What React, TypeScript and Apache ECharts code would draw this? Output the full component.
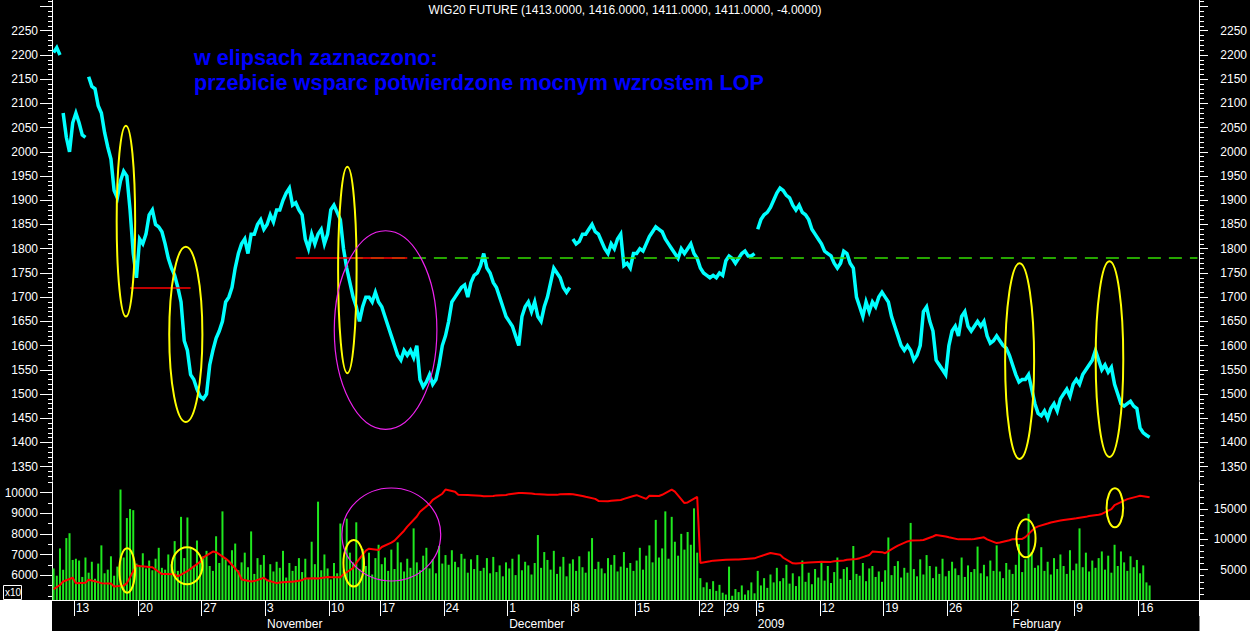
import React, { useEffect, useRef } from 'react';
import * as echarts from 'echarts';

const FONT = '"Liberation Sans", Arial, Helvetica, sans-serif';

const titleText = 'WIG20 FUTURE (1413.0000, 1416.0000, 1411.0000, 1411.0000, -4.0000)';
const noteLines = ['w elipsach zaznaczono:', 'przebicie wsparc potwierdzone mocnym wzrostem LOP'];

// trading sessions shown on the axis
const tradingDays = [
  '2008-10-09', '2008-10-10', '2008-10-13', '2008-10-14', '2008-10-15', '2008-10-16', '2008-10-17',
  '2008-10-20', '2008-10-21', '2008-10-22', '2008-10-23', '2008-10-24', '2008-10-27', '2008-10-28',
  '2008-10-29', '2008-10-30', '2008-10-31',
  '2008-11-03', '2008-11-04', '2008-11-05', '2008-11-06', '2008-11-07', '2008-11-10', '2008-11-12',
  '2008-11-13', '2008-11-14', '2008-11-17', '2008-11-18', '2008-11-19', '2008-11-20', '2008-11-21',
  '2008-11-24', '2008-11-25', '2008-11-26', '2008-11-27', '2008-11-28',
  '2008-12-01', '2008-12-02', '2008-12-03', '2008-12-04', '2008-12-05', '2008-12-08', '2008-12-09',
  '2008-12-10', '2008-12-11', '2008-12-12', '2008-12-15', '2008-12-16', '2008-12-17', '2008-12-18',
  '2008-12-19', '2008-12-22', '2008-12-23', '2008-12-29', '2008-12-30', '2008-12-31',
  '2009-01-05', '2009-01-06', '2009-01-07', '2009-01-08', '2009-01-09', '2009-01-12', '2009-01-13',
  '2009-01-14', '2009-01-15', '2009-01-16', '2009-01-19', '2009-01-20', '2009-01-21', '2009-01-22',
  '2009-01-23', '2009-01-26', '2009-01-27', '2009-01-28', '2009-01-29', '2009-01-30',
  '2009-02-02', '2009-02-03', '2009-02-04', '2009-02-05', '2009-02-06', '2009-02-09', '2009-02-10',
  '2009-02-11', '2009-02-12', '2009-02-13', '2009-02-16',
];
// bars per session (default 4)
const sessionBars: Record<string, number> = { '2008-10-09': 3, '2008-12-31': 2 };
const BARS_PER_DAY = 4;
const EMPTY_BARS_AFTER = 15;

// WIG20 future, one value per bar
const price = [
  2205, 2215, 2200,
  2080, 2030, 2000, 2060,
  2080, 2060, 2035, 2030,
  2155, 2135, 2130, 2095,
  2080, 2040, 2010, 1985,
  1920, 1905, 1940, 1960,
  1950, 1880, 1790, 1740,
  1820, 1810, 1830, 1870,
  1880, 1850, 1845, 1835,
  1810, 1780, 1760, 1745,
  1720, 1690, 1610, 1590,
  1540, 1530, 1510, 1495,
  1490, 1500, 1560, 1590,
  1615, 1630, 1650, 1690,
  1700, 1720, 1760, 1790,
  1810, 1820, 1790, 1830,
  1830, 1850, 1860, 1840,
  1850, 1870, 1855, 1880,
  1880, 1900, 1915, 1925,
  1890, 1895, 1880, 1870,
  1820, 1800, 1830, 1810,
  1830, 1840, 1810, 1830,
  1880, 1890, 1875, 1860,
  1800, 1760, 1730, 1700,
  1680, 1650, 1680, 1700,
  1700, 1690, 1710, 1690,
  1680, 1660, 1640, 1620,
  1600, 1580, 1570, 1590,
  1580, 1590, 1575, 1600,
  1530, 1515, 1525, 1540,
  1520, 1530, 1560, 1600,
  1620, 1650, 1690, 1700,
  1710, 1720, 1725, 1700,
  1730, 1745, 1750, 1765,
  1790, 1760, 1750, 1730,
  1720, 1700, 1680, 1660,
  1650, 1640, 1620, 1600,
  1660, 1680, 1690, 1670,
  1690, 1660, 1650, 1680,
  1700, 1730, 1760, 1750,
  1740, 1720, 1710, 1720,
  1820, 1810, 1815, 1830,
  1830, 1840, 1850, 1835,
  1830, 1815, 1800, 1790,
  1810, 1800, 1820, 1830,
  1765, 1770, 1760, 1790,
  1790, 1800, 1795, 1810,
  1825, 1835, 1845, 1840,
  1835, 1820, 1810, 1800,
  1790, 1780, 1800, 1790,
  1800, 1810, 1790, 1780,
  1760, 1750, 1745, 1740,
  1745, 1740, 1750, 1745,
  1775, 1785, 1780, 1770,
  1780, 1790, 1795, 1785,
  1785, 1790,
  1840, 1860, 1870, 1875,
  1885, 1900, 1915, 1925,
  1920, 1910, 1905, 1890,
  1880, 1890, 1875, 1870,
  1860, 1840, 1830, 1820,
  1810, 1795, 1790, 1785,
  1770, 1760, 1770, 1795,
  1790, 1770, 1760, 1700,
  1680, 1660, 1690, 1670,
  1690, 1680, 1700, 1710,
  1700, 1690, 1660, 1640,
  1620, 1600, 1590, 1600,
  1590, 1570, 1580, 1600,
  1670, 1680, 1650, 1630,
  1570, 1560, 1550, 1540,
  1600, 1630, 1640, 1620,
  1660, 1670, 1640, 1630,
  1640, 1650, 1640, 1650,
  1620, 1605, 1610, 1620,
  1610, 1600, 1595, 1580,
  1560, 1540, 1525, 1530,
  1530, 1540, 1510, 1480,
  1460, 1455, 1465, 1450,
  1470, 1480, 1465, 1490,
  1500, 1510, 1495, 1520,
  1530, 1520, 1540, 1550,
  1560, 1570, 1590, 1570,
  1550, 1560, 1545, 1555,
  1520, 1500, 1480, 1475,
  1480, 1485, 1475, 1470,
  1430, 1420, 1415, 1411,
];
// bars where the price line restarts after an opening gap
const priceGapStarts = [3, 11, 163, 221];

// volume, one value per bar
const volume = [
  5200, 4000, 8500,
  5000, 10200, 11000, 6600,
  6800, 6500, 3800, 7000,
  4500, 6300, 3500, 6000,
  9000, 4400, 5000, 7200,
  4000, 5500, 18200, 7000,
  13500, 15000, 14800, 6000,
  5600, 7700, 5200, 6500,
  4900, 6800, 8600, 5300,
  5000, 7500, 5900, 9700,
  4800, 13700, 6900, 13600,
  8600, 5500, 9800, 6300,
  7200, 8100, 5600, 4800,
  10500, 6100, 14600, 6700,
  5700, 8200, 9300, 4900,
  6200, 7800, 5400, 11300,
  4300, 6900, 5800, 7400,
  3200, 5900, 4700, 6300,
  5300, 8100, 3700, 6100,
  4800, 5600, 6900, 4600,
  6800, 3600, 9600, 5900,
  16200, 4900, 7500, 5200,
  3400, 6100, 4400, 12600,
  5000, 13400, 7800, 6200,
  12800, 5100, 8400, 5600,
  7800, 4200, 6900, 9100,
  5900, 7000, 4800, 8300,
  5100, 9500, 6200, 4700,
  6800, 5300, 11800, 6200,
  4900, 7300, 8600, 5200,
  6700, 4400, 8900, 6000,
  7400, 5800, 8200, 6300,
  5400, 7600, 6800, 4500,
  6700, 5100, 7400, 4800,
  5300, 6900, 4400, 7100,
  4600, 5700, 3900, 6200,
  5200, 6800, 4100, 7500,
  4900, 6300, 5700, 4200,
  6100, 10700, 5300, 7900,
  6600, 5000, 8100, 4300,
  5500, 7100, 3900, 6000,
  6700, 4800, 7200, 5400,
  4500, 8000, 10200, 5100,
  6300, 5200, 4400, 6900,
  5800, 7400, 4700, 5500,
  7900, 5300, 6100, 4800,
  6500, 8600, 5000, 7300,
  9000, 6200, 13200, 7000,
  8500, 14600, 6800, 13700,
  9600, 7300, 10900, 8300,
  11200, 9100, 15100, 7800,
  3600, 2100, 2900, 1800,
  3100, 1500, 2500, 1200,
  900, 5500, 700, 1800,
  1300, 2400, 900, 1600,
  2900, 1100,
  4800, 2400, 3600, 2000,
  4200, 2900, 5300, 3100,
  3600, 5800, 2700, 4400,
  2300, 3900, 6500, 3000,
  4500, 2600, 5100, 3700,
  6200, 3200, 5600, 2800,
  4600, 7000, 3500, 5100,
  5400, 3300, 8900, 4300,
  4000, 6100, 3100, 5200,
  5600, 3800, 4700, 3000,
  4900, 10300, 4100, 5600,
  6400, 3700, 5300, 4500,
  12700, 5100, 3900, 6700,
  4200, 7400, 5600, 3600,
  5500, 4300, 6800, 3900,
  4800, 6300, 5200, 4100,
  7000, 3800, 5700, 4600,
  5100, 8800, 4400, 5800,
  3900, 6500, 4800, 9000,
  4700, 3600, 6100, 5000,
  4300, 5800, 9200, 4600,
  6700, 14200, 7900, 5300,
  5700, 8700, 4800, 6300,
  4200, 6900, 5100, 7500,
  5600, 4300, 8200, 4900,
  6000, 11800, 5400, 7800,
  4700, 6500, 5300, 6900,
  8000, 5000, 7300, 4500,
  9100, 5600, 8000, 6200,
  4800, 7200, 5400, 6600,
  4400, 5700, 2900, 2400,
];

// open interest (LOP, x10) at the start and at the end of each session
const lopOpen = [
  5330, 5700, 5610, 5780, 5620, 5460, 5620, 6450, 6390, 6060, 5950, 6320, 6870, 7120, 6680, 5800, 5720,
  5760, 5650, 5690, 5850, 5850, 5900, 6050, 6600, 7290, 7370, 7680, 8360, 9080, 9650, 10150, 9900, 9880, 9830, 9870,
  9930, 9990, 9940, 9900, 9920, 9920, 9800, 9600, 9610, 9700, 9880, 9850, 9900, 10050, 9530, 6600, 6710, 6750, 6770, 6810,
  6880, 7080, 6850, 6570, 6620, 6660, 6680, 6750, 6830, 7150, 7070, 7440, 7680, 7710, 7950, 7840, 7740, 7760, 7740, 7590,
  7750, 7850, 8370, 8560, 8680, 8760, 8870, 8970, 9400, 9690, 9850,
];
const lopClose = [
  5530, 5880, 5640, 5670, 5600, 5500, 6480, 6400, 6060, 6050, 6200, 6650, 7150, 6810, 6150, 5700, 5880,
  5620, 5690, 5760, 5860, 5920, 5900, 6350, 7200, 7220, 7580, 8160, 8850, 9460, 9950, 10050, 9890, 9850, 9840, 9890,
  9990, 9960, 9910, 9895, 9940, 9840, 9700, 9590, 9650, 9840, 9700, 9840, 10150, 9500, 9800, 6680, 6740, 6770, 6800, 6820,
  7030, 7000, 6580, 6610, 6650, 6650, 6720, 6790, 6980, 7120, 7350, 7640, 7700, 7880, 7880, 7740, 7740, 7840, 7560, 7700,
  7760, 8300, 8510, 8650, 8740, 8830, 8930, 9200, 9620, 9810, 9780,
];

// axis tick labels
const priceLabels = [1350, 1400, 1450, 1500, 1550, 1600, 1650, 1700, 1750, 1800, 1850, 1900, 1950, 2000, 2050, 2100, 2150, 2200, 2250];
const priceMajorTicks = [...priceLabels, 2300];
const lopLabels = [6000, 7000, 8000, 9000, 10000];
const lopMinorTicks = [5000, 5500, 6500, 7500, 8500, 9500, 10500];
const volLabels = [5000, 10000, 15000];
const volMinorTicks = [1000, 2000, 3000, 4000, 6000, 7000, 8000, 9000, 11000, 12000, 13000, 14000, 16000, 17000, 18000, 19000];
const monthNames: Record<number, string> = { 10: 'October', 11: 'November', 12: 'December', 2: 'February' };

// annotations (data coordinates: bar index, value)
const supportLines = [
  { from: 24, to: 43, value: 1720 },
  { from: 76, to: 111, value: 1780.5 },
];
const resistanceLine = { from: 93, to: 359, value: 1782 };
const priceEllipses = [
  { bar: 22.7, value: 1857, rBars: 2.9, rValue: 197, kind: 'y' },
  { bar: 41.5, value: 1623, rBars: 5.2, rValue: 181, kind: 'y' },
  { bar: 92.2, value: 1756, rBars: 2.9, rValue: 213, kind: 'y' },
  { bar: 104.2, value: 1632, rBars: 16.1, rValue: 205, kind: 'm' },
  { bar: 303.2, value: 1568, rBars: 4.55, rValue: 202, kind: 'y' },
  { bar: 331.4, value: 1572, rBars: 4.33, rValue: 202, kind: 'y' },
];
const lopEllipses = [
  { bar: 23.1, value: 6233, rBars: 2.45, rValue: 1075, kind: 'y' },
  { bar: 41.9, value: 6460, rBars: 4.8, rValue: 896, kind: 'y' },
  { bar: 94.2, value: 6581, rBars: 3.23, rValue: 1128, kind: 'y' },
  { bar: 106.0, value: 7976, rBars: 15.5, rValue: 2252, kind: 'm' },
  { bar: 305.2, value: 7792, rBars: 3.0, rValue: 920, kind: 'y' },
  { bar: 333.1, value: 9269, rBars: 2.6, rValue: 944, kind: 'y' },
];

function buildAxis() {
  const categories: string[] = [];
  const dayStart: number[] = [];
  const dayEnd: number[] = [];
  tradingDays.forEach((d) => {
    const n = sessionBars[d] ?? BARS_PER_DAY;
    dayStart.push(categories.length);
    for (let k = 0; k < n; k++) categories.push(d + ' #' + (k + 1));
    dayEnd.push(categories.length - 1);
  });
  for (let k = 0; k < EMPTY_BARS_AFTER; k++) categories.push('empty #' + (k + 1));
  const weekStarts = new Set<number>();
  const monthStarts = new Set<number>();
  const weekOf = (d: string) => {
    const [y, m, dd] = d.split('-').map(Number);
    return Math.floor((Date.UTC(y, m - 1, dd) / 86400000 + 3) / 7);
  };
  for (let i = 1; i < tradingDays.length; i++) {
    if (weekOf(tradingDays[i]) !== weekOf(tradingDays[i - 1])) weekStarts.add(dayStart[i]);
    if (tradingDays[i].slice(5, 7) !== tradingDays[i - 1].slice(5, 7)) monthStarts.add(dayStart[i]);
  }
  return { categories, dayStart, dayEnd, weekStarts, monthStarts };
}

function yAxisDef(gridIndex: number, position: string, min: number, max: number, ticks: number[], tickLen: number,
  labels?: number[], margin?: number, align?: string) {
  return {
    type: 'value', gridIndex, position, min, max, scale: true,
    axisLine: { show: true, onZero: false, lineStyle: { color: '#ffffff', width: 1 } },
    axisTick: { show: true, customValues: ticks, length: tickLen, lineStyle: { color: '#ffffff', width: 1 } },
    axisLabel: labels
      ? {
        show: true, customValues: labels, color: '#ffffff', fontSize: 12, fontFamily: FONT, margin, align,
        formatter: (v: number) => String(v),
      }
      : { show: false },
    splitLine: { show: false },
  };
}

export default function App() {
  const ref = useRef<HTMLDivElement>(null);

  useEffect(() => {
    if (!ref.current) return;
    const chart = echarts.init(ref.current, undefined, { renderer: 'svg' });
    const { categories, dayStart, dayEnd, weekStarts, monthStarts } = buildAxis();

    const priceMinor: number[] = [];
    for (let v = 1330; v <= 2310; v += 10) if (v % 50 !== 0) priceMinor.push(v);

    const bounds = [0, ...priceGapStarts, price.length];
    const priceSeries: any[] = [];
    for (let s = 0; s < bounds.length - 1; s++) {
      const data: number[][] = [];
      for (let i = bounds[s]; i < bounds[s + 1]; i++) data.push([i, price[i]]);
      priceSeries.push({
        type: 'line', xAxisIndex: 0, yAxisIndex: 0, data, showSymbol: false, symbol: 'none',
        lineStyle: { color: '#00ffff', width: 3.5, join: 'miter' }, z: 3, silent: true,
      });
    }
    priceSeries[0].markLine = {
      silent: true, symbol: ['none', 'none'], label: { show: false }, animation: false,
      data: [
        [
          { coord: [resistanceLine.from, resistanceLine.value], lineStyle: { color: '#33dd00', width: 1.5, type: [13, 8] } },
          { coord: [resistanceLine.to, resistanceLine.value] },
        ],
        ...supportLines.map((l) => [
          { coord: [l.from, l.value], lineStyle: { color: '#ff0000', width: 1.5, type: 'solid' } },
          { coord: [l.to, l.value] },
        ]),
      ],
    };

    const lopData: number[][] = [];
    tradingDays.forEach((_, i) => {
      lopData.push([dayStart[i], lopOpen[i]]);
      lopData.push([dayEnd[i], lopClose[i]]);
    });

    const option: any = {
      backgroundColor: '#000000',
      animation: false,
      title: {
        text: titleText, left: 'center', top: 4, padding: 0,
        textStyle: { color: '#ffffff', fontSize: 12, fontWeight: 'normal', fontFamily: FONT },
      },
      grid: [
        { left: 52, right: 51, top: 0, height: 480 },
        { left: 52, right: 51, top: 482, height: 118 },
      ],
      xAxis: [
        { type: 'category', gridIndex: 0, data: categories, boundaryGap: true, show: false },
        {
          type: 'category', gridIndex: 1, data: categories, boundaryGap: true, position: 'bottom',
          axisLine: { show: true, lineStyle: { color: '#ffffff', width: 1 } },
          axisTick: { show: true, interval: (i: number) => weekStarts.has(i), length: 16, lineStyle: { color: '#ffffff', width: 1 } },
          axisLabel: {
            show: true, interval: (i: number) => weekStarts.has(i),
            formatter: (v: string) => String(parseInt(v.slice(8, 10), 10)),
            color: '#ffffff', fontSize: 12, fontFamily: FONT, align: 'left', verticalAlign: 'middle', margin: 8,
          },
          splitLine: { show: false },
        },
        {
          type: 'category', gridIndex: 1, data: categories, boundaryGap: true, position: 'bottom', offset: 16,
          axisLine: { show: true, lineStyle: { color: '#ffffff', width: 1 } },
          axisTick: { show: true, interval: (i: number) => monthStarts.has(i), length: 15, lineStyle: { color: '#ffffff', width: 1 } },
          axisLabel: {
            show: true, interval: (i: number) => monthStarts.has(i),
            formatter: (v: string) => {
              const m = parseInt(v.slice(5, 7), 10);
              return m === 1 ? v.slice(0, 4) : monthNames[m];
            },
            color: '#ffffff', fontSize: 12, fontFamily: FONT, align: 'left', verticalAlign: 'middle', margin: 8,
          },
          splitLine: { show: false },
        },
      ],
      yAxis: [
        yAxisDef(0, 'left', 1322.5, 2313.4, priceMajorTicks, 12, priceLabels, 14, 'right'),
        yAxisDef(0, 'left', 1322.5, 2313.4, priceMinor, 4),
        yAxisDef(0, 'right', 1322.5, 2313.4, priceMajorTicks, 9, priceLabels, 48, 'right'),
        yAxisDef(0, 'right', 1322.5, 2313.4, priceMinor, 5),
        yAxisDef(1, 'left', 4804, 10518, lopLabels, 12, lopLabels, 14, 'right'),
        yAxisDef(1, 'left', 4804, 10518, lopMinorTicks, 4),
        yAxisDef(1, 'right', 0, 19440, volLabels, 9, volLabels, 48, 'right'),
        yAxisDef(1, 'right', 0, 19440, volMinorTicks, 5),
      ],
      series: [
        {
          type: 'bar', xAxisIndex: 1, yAxisIndex: 6, data: volume, barWidth: 2, silent: true,
          itemStyle: { color: '#1fe81f' }, z: 2,
        },
        {
          type: 'line', xAxisIndex: 1, yAxisIndex: 4, data: lopData, showSymbol: false, symbol: 'none', silent: true,
          lineStyle: { color: '#ff0000', width: 2 }, z: 4,
        },
        ...priceSeries,
      ],
    };
    chart.setOption(option);

    const px = (xi: number, bar: number) => {
      const b = Math.floor(bar);
      const p0 = chart.convertToPixel({ xAxisIndex: xi }, b) as number;
      const p1 = chart.convertToPixel({ xAxisIndex: xi }, b + 1) as number;
      return p0 + (bar - b) * (p1 - p0);
    };
    const barPx = (px(1, 1) - px(1, 0));
    const ellipse = (e: any, xi: number, yi: number, id: string) => {
      const cx = px(xi, e.bar);
      const cy = chart.convertToPixel({ yAxisIndex: yi }, e.value) as number;
      const top = chart.convertToPixel({ yAxisIndex: yi }, e.value + e.rValue) as number;
      return {
        type: 'ellipse', id, z: 100, silent: true,
        shape: { cx, cy, rx: e.rBars * barPx, ry: Math.abs(cy - top) },
        style: { fill: 'none', stroke: e.kind === 'm' ? '#ee22ee' : '#ffff00', lineWidth: e.kind === 'm' ? 1.2 : 2 },
      };
    };

    const elements: any[] = [
      { type: 'rect', id: 'wl', z: 1, shape: { x: 0, y: 600, width: 52, height: 31 }, style: { fill: '#ffffff' } },
      { type: 'rect', id: 'wr', z: 1, shape: { x: 1199.5, y: 600, width: 51, height: 31 }, style: { fill: '#ffffff' } },
      { type: 'rect', id: 'xbox', z: 5, shape: { x: 3.5, y: 585.5, width: 18, height: 14 }, style: { fill: '#000000', stroke: '#ffffff', lineWidth: 1 } },
      { type: 'text', id: 'xtxt', z: 6, x: 5, y: 587, style: { text: 'x10', fill: '#ffffff', font: '10px ' + FONT } },
      { type: 'text', id: 'n1', z: 100, x: 194, y: 46, style: { text: noteLines[0], fill: '#0000ff', font: 'bold 21.6px ' + FONT } },
      { type: 'text', id: 'n2', z: 100, x: 194, y: 71, style: { text: noteLines[1], fill: '#0000ff', font: 'bold 21.6px ' + FONT } },
      ...priceEllipses.map((e, i) => ellipse(e, 0, 0, 'pe' + i)),
      ...lopEllipses.map((e, i) => ellipse(e, 1, 4, 'le' + i)),
    ];
    chart.setOption({ graphic: { elements } });

    return () => chart.dispose();
  }, []);

  return <div ref={ref} style={{ position: 'absolute', left: 0, top: 0, width: 1250, height: 631 }} />;
}
